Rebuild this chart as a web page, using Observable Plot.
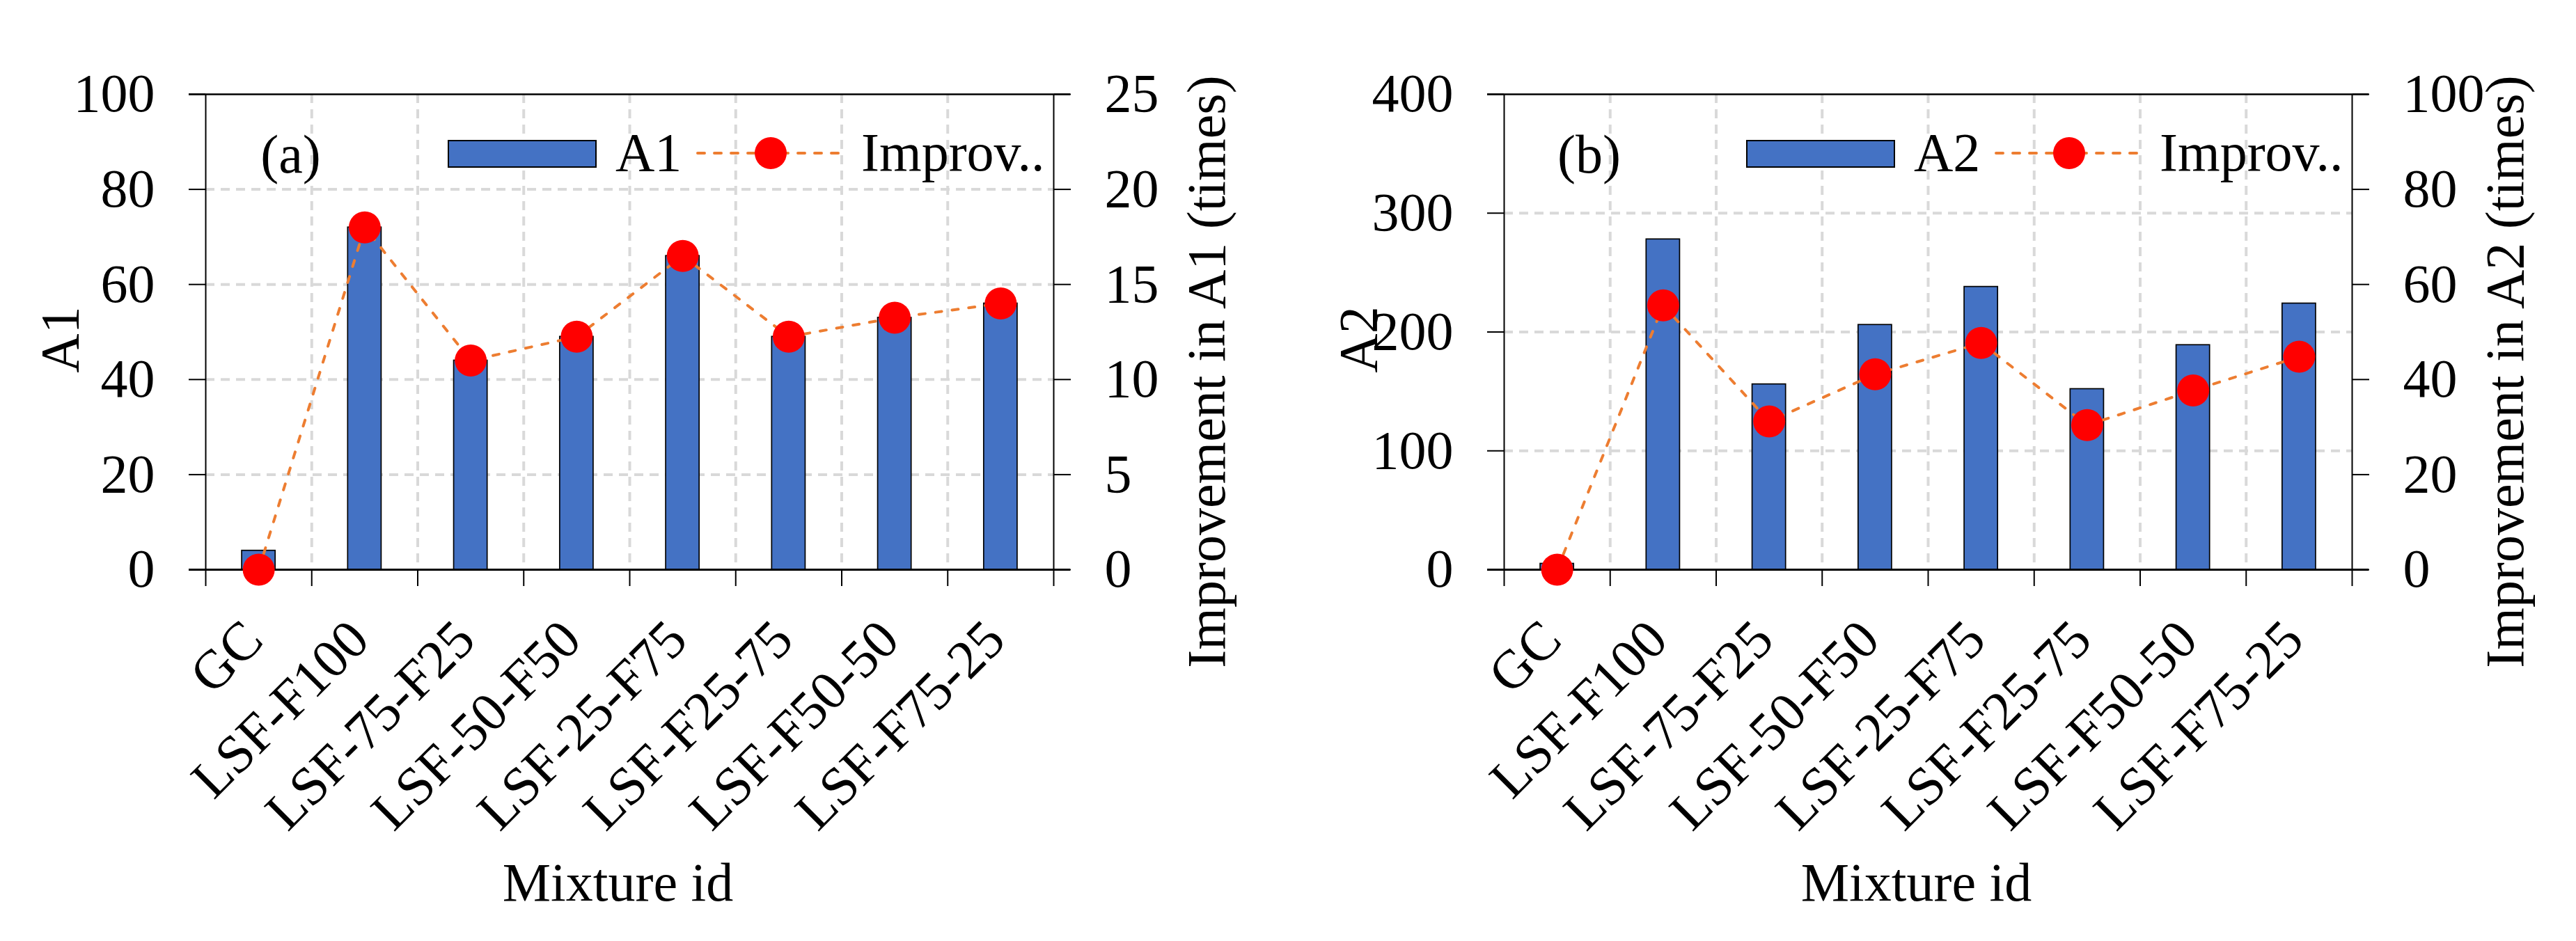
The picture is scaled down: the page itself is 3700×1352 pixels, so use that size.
<!DOCTYPE html>
<html lang="en">
<head>
<meta charset="UTF-8">
<title>A1 / A2 by mixture</title>
<script src="https://cdn.jsdelivr.net/npm/d3@7"></script>
<script src="https://cdn.jsdelivr.net/npm/@observablehq/plot@0.6"></script>
<style>
  body { margin: 0; background: white; }
  #wrap { display: flex; width: 3700px; height: 1352px; }
  #wrap > div { width: 1850px; height: 1352px; }
</style>
</head>
<body>
<div id="wrap"><div id="pa"></div><div id="pb"></div></div>
<script>
// mixtures on the x axis
const cats = ["GC", "LSF-F100", "LSF-75-F25", "LSF-50-F50", "LSF-25-F75", "LSF-F25-75", "LSF-F50-50", "LSF-F75-25"];

// panel (a)
const a1 = [4, 72, 44, 49, 66, 49, 53, 56];
const imp1 = [0, 18, 11, 12.25, 16.5, 12.25, 13.25, 14];
const a1Ticks = [0, 20, 40, 60, 80, 100];
const imp1Ticks = [0, 5, 10, 15, 20, 25];

// panel (b)
const a2 = [5, 278, 156, 206, 238, 152, 189, 224];
const imp2 = [0, 55.6, 31.2, 41.1, 47.7, 30.4, 37.7, 44.8];
const a2Ticks = [0, 100, 200, 300, 400];
const imp2Ticks = [0, 20, 40, 60, 80, 100];

const FONT = '"Liberation Serif", "Times New Roman", serif';
const FS = 78;

function panel(el, {tag, name, vals, imp, leftTicks, rightTicks, ml, mr}) {
  const ymax = leftTicks[leftTicks.length - 1];
  const k = ymax / rightTicks[rightTicks.length - 1]; // right axis -> left units
  const rows = cats.map((c, i) => ({c, i, v: vals[i], imp: imp[i]}));
  const edges = d3.range(cats.length + 1).map(i => i - 0.5);
  const grid = {stroke: "#d9d9d9", strokeWidth: 4, strokeDasharray: "13,9"};

  const chart = Plot.plot({
    width: 1850,
    height: 1352,
    marginLeft: ml,
    marginRight: mr,
    marginTop: 135,
    marginBottom: 534,
    style: {fontFamily: FONT, fontSize: FS + "px", color: "black", background: "white", overflow: "visible"},
    x: {type: "linear", domain: [-0.5, cats.length - 0.5]},
    y: {domain: [0, ymax]},
    marks: [
      Plot.ruleY(leftTicks.slice(1, -1), grid),
      Plot.ruleX(edges.slice(1, -1), grid),
      Plot.rectY(rows, {x1: d => d.i - 0.158, x2: d => d.i + 0.158, y: "v", fill: "#4472C4", stroke: "black", strokeWidth: 1.7}),
      Plot.ruleX([edges[0], edges[edges.length - 1]], {stroke: "black", strokeWidth: 2}),
      Plot.ruleY([ymax], {stroke: "black", strokeWidth: 2.5, insetLeft: -24, insetRight: -24}),
      Plot.ruleY([0], {stroke: "black", strokeWidth: 3, insetLeft: -24, insetRight: -24}),
      Plot.line(rows, {x: "i", y: d => d.imp * k, stroke: "#ED7D31", strokeWidth: 4, strokeDasharray: "9,15", strokeLinecap: "round"}),
      Plot.dot(rows, {x: "i", y: d => d.imp * k, r: 23, fill: "#FF0000"}),
      Plot.axisY({ticks: leftTicks, anchor: "left", tickSize: 24, tickPadding: 49, strokeWidth: 2, label: null}),
      Plot.axisY({ticks: rightTicks.map(t => t * k), anchor: "right", tickSize: 24, tickPadding: 49, strokeWidth: 2,
        tickFormat: t => t / k, label: null}),
      Plot.axisX({ticks: edges, anchor: "bottom", tickSize: 24, strokeWidth: 2, tickFormat: () => "", label: null}),
      Plot.text(rows, {x: "i", text: "c", frameAnchor: "bottom", rotate: -45, textAnchor: "end", lineAnchor: "bottom", dx: 10, dy: 105}),
      Plot.text([name], {frameAnchor: "left", rotate: -90, textAnchor: "middle", lineAnchor: "bottom", dx: -184, dy: 11}),
      Plot.text([`Improvement in ${name} (times)`], {frameAnchor: "right", rotate: -90, textAnchor: "middle", lineAnchor: "bottom", dx: 245, dy: 57}),
      Plot.text(["Mixture id"], {frameAnchor: "bottom", textAnchor: "middle", lineAnchor: "bottom", dx: -17, dy: 475}),
      Plot.text([`(${tag})`], {frameAnchor: "top-left", textAnchor: "middle", lineAnchor: "middle", dx: 122, dy: 88})
    ]
  });

  // legend inside the frame, top right
  const g = d3.select(chart).append("g")
    .attr("transform", `translate(${ml},135)`)
    .attr("text-anchor", "start");
  g.append("rect").attr("x", 349).attr("y", 67).attr("width", 212).attr("height", 38)
    .attr("fill", "#4472C4").attr("stroke", "black").attr("stroke-width", 2);
  g.append("text").attr("x", 589).attr("y", 110).text(name);
  g.append("line").attr("x1", 707).attr("x2", 918).attr("y1", 85).attr("y2", 85)
    .attr("stroke", "#ED7D31").attr("stroke-width", 4).attr("stroke-dasharray", "10,14").attr("stroke-linecap", "round");
  g.append("circle").attr("cx", 812).attr("cy", 85).attr("r", 23).attr("fill", "#FF0000");
  g.append("text").attr("x", 942).attr("y", 110).text("Improv..");

  document.querySelector(el).append(chart);
}

panel("#pa", {tag: "a", name: "A1", vals: a1, imp: imp1, leftTicks: a1Ticks, rightTicks: imp1Ticks, ml: 295, mr: 337});
panel("#pb", {tag: "b", name: "A2", vals: a2, imp: imp2, leftTicks: a2Ticks, rightTicks: imp2Ticks, ml: 310, mr: 322});
</script>
</body>
</html>
